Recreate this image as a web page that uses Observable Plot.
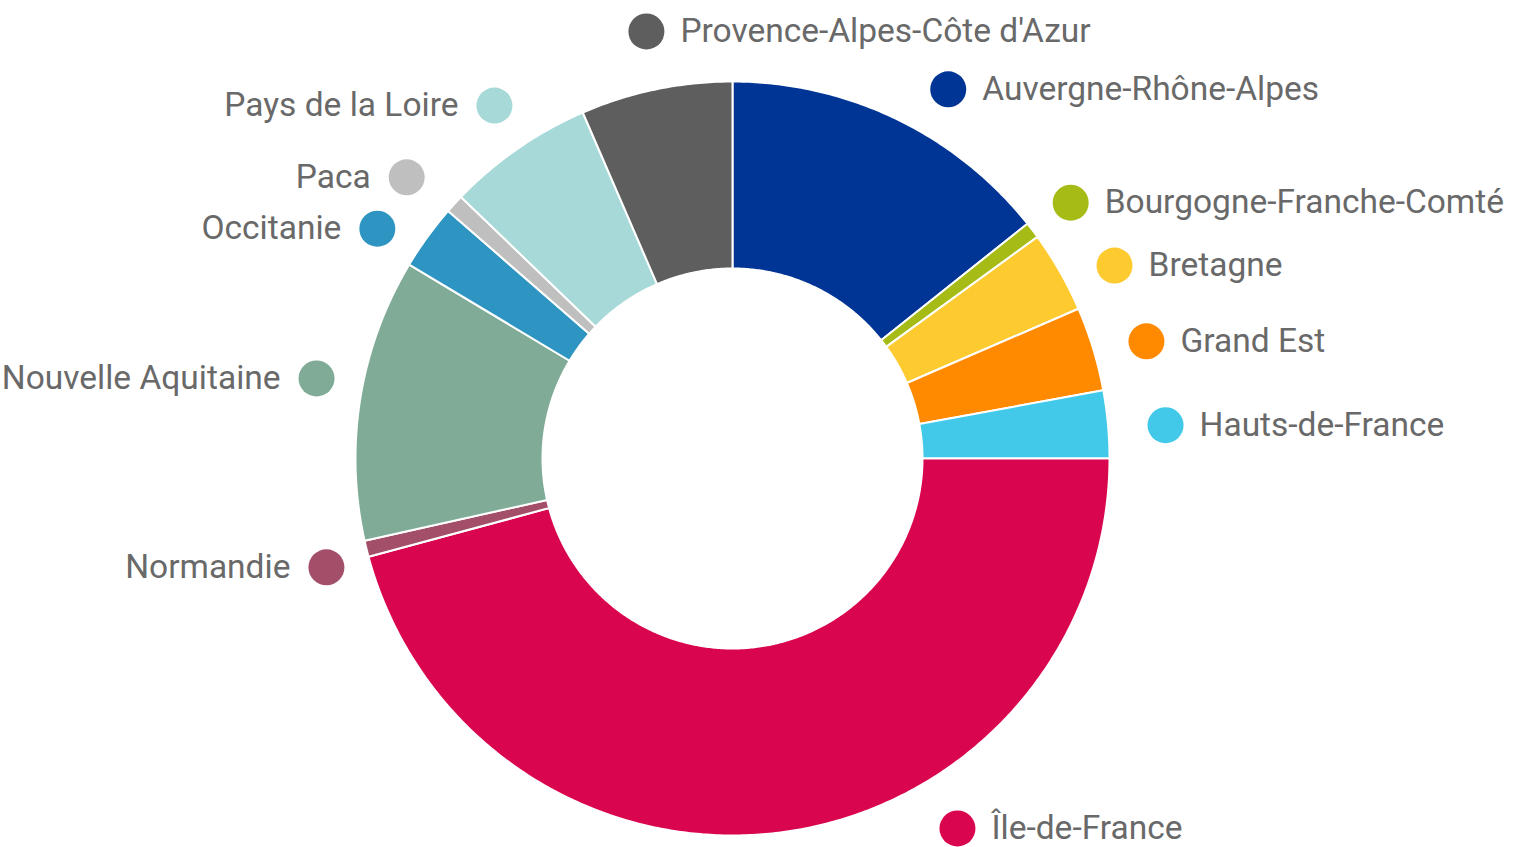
<!DOCTYPE html>
<html>
<head>
<meta charset="utf-8">
<script src="https://cdn.jsdelivr.net/npm/d3@7"></script>
<script src="https://cdn.jsdelivr.net/npm/@observablehq/plot@0.6"></script>
<style>
  html, body { margin: 0; padding: 0; background: #fff; }
  #chart svg { display: block; }
</style>
</head>
<body>
<div id="chart"></div>
<script>
// ---- data (clockwise from 12 o'clock) ----
const regions = [
  "Auvergne-Rhône-Alpes",
  "Bourgogne-Franche-Comté",
  "Bretagne",
  "Grand Est",
  "Hauts-de-France",
  "Île-de-France",
  "Normandie",
  "Nouvelle Aquitaine",
  "Occitanie",
  "Paca",
  "Pays de la Loire",
  "Provence-Alpes-Côte d'Azur"
];
const shares = [14.3, 0.7, 3.5, 3.6, 2.9, 45.8, 0.7, 12.1, 2.8, 0.8, 6.3, 6.5];
const colors = [
  "#003595", "#a7bb16", "#fdca30", "#ff8a00", "#42c9ea", "#d9064f",
  "#a44f69", "#80ac97", "#2e94c2", "#bfbfbf", "#a7d9d9", "#5e5e5e"
];

// ---- layout (label placement: angle clockwise from top, distance, side) ----
const labelAngles = [30.3, 52.9, 63.2, 74.2, 85.6, 148.7, 255.0, 280.9, 302.9, 310.8, 326.0, 348.6];
const labelRadii  = [427.6, 424, 428, 430.2, 434.3, 433, 420.4, 423.6, 423, 430.4, 425.7, 435.6];
const labelSides  = ["right", "right", "right", "right", "right", "right", "left", "left", "left", "left", "left", "right"];
const R_OUT = 377, R_IN = 190;

// ---- build slice polygons from the values ----
const total = d3.sum(shares);
const slicePts = [];
let cum = 0;
regions.forEach((name, i) => {
  const a0 = cum / total * 2 * Math.PI;
  cum += shares[i];
  const a1 = cum / total * 2 * Math.PI;
  const n = Math.max(2, Math.ceil((a1 - a0) * 180 / Math.PI * 2));
  const pts = [];
  for (let k = 0; k <= n; k++) {
    const a = a0 + (a1 - a0) * k / n;
    pts.push({name, x: R_OUT * Math.sin(a), y: -R_OUT * Math.cos(a)});
  }
  for (let k = n; k >= 0; k--) {
    const a = a0 + (a1 - a0) * k / n;
    pts.push({name, x: R_IN * Math.sin(a), y: -R_IN * Math.cos(a)});
  }
  pts.push({...pts[0]});
  slicePts.push(...pts);
});

const labels = regions.map((name, i) => {
  const a = labelAngles[i] * Math.PI / 180;
  const r = labelRadii[i];
  return {name, x: r * Math.sin(a), y: -r * Math.cos(a), right: labelSides[i] === "right"};
});

const chart = Plot.plot({
  width: 1517,
  height: 847,
  margin: 0,
  style: {background: "#fff", fontFamily: "Roboto, sans-serif"},
  x: {domain: [-732, 785], range: [0, 1517], axis: null},
  y: {domain: [-458, 389], range: [0, 847], axis: null},
  color: {domain: regions, range: colors},
  marks: [
    Plot.line(slicePts, {x: "x", y: "y", z: "name", fill: "name", stroke: "white", strokeWidth: 2, strokeLinejoin: "round"}),
    Plot.dot(labels, {x: "x", y: "y", r: 18, fill: "name", stroke: "none"}),
    Plot.text(labels.filter(d => d.right), {x: "x", y: "y", text: "name", textAnchor: "start", dx: 34, fontSize: 33.5, fill: "#696969", fontFamily: "Roboto"}),
    Plot.text(labels.filter(d => !d.right), {x: "x", y: "y", text: "name", textAnchor: "end", dx: -36, fontSize: 33.5, fill: "#696969", fontFamily: "Roboto"})
  ]
});
document.getElementById("chart").appendChild(chart);
</script>
</body>
</html>
